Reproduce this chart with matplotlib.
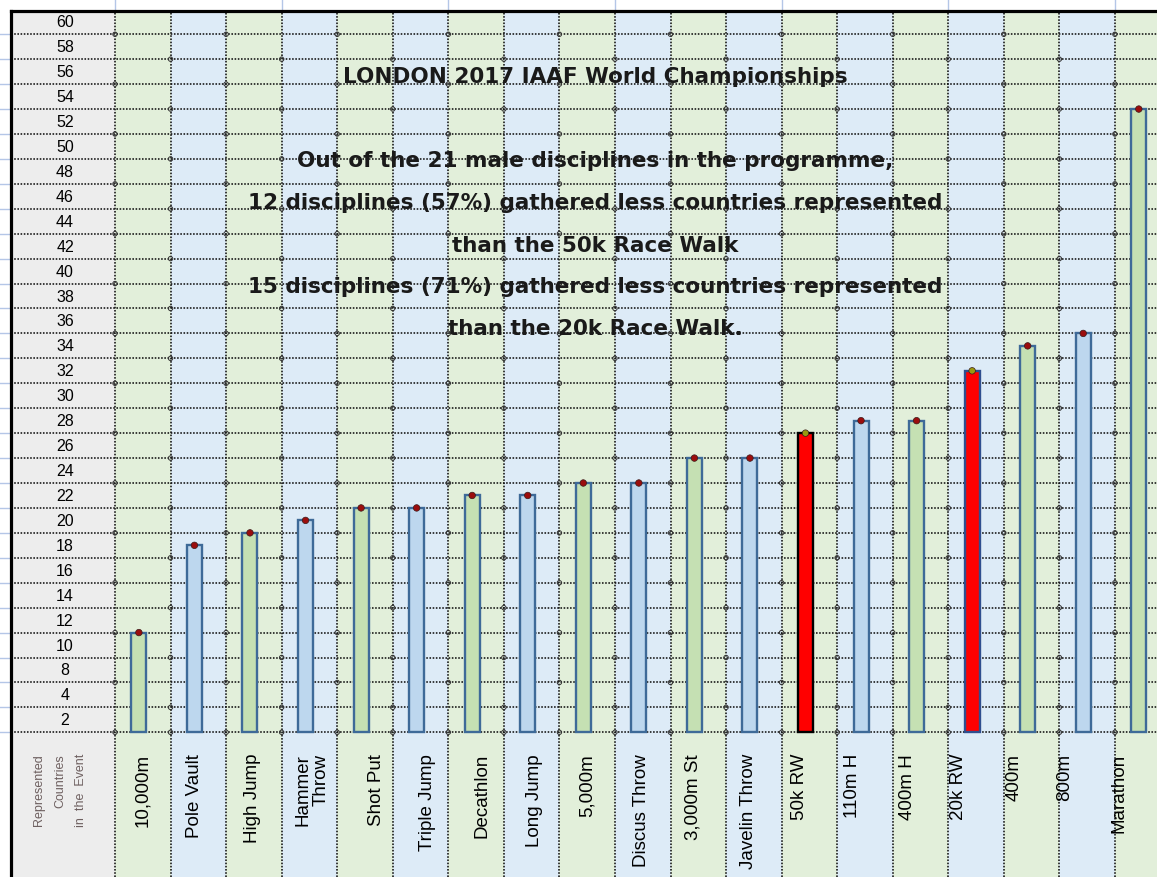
import numpy as np
import matplotlib
matplotlib.use('Agg')
import matplotlib.pyplot as plt
from matplotlib.patches import Rectangle

# data
events = ['10,000m', 'Pole Vault', 'High Jump', 'Hammer\nThrow', 'Shot Put',
          'Triple Jump', 'Decathlon', 'Long Jump', '5,000m', 'Discus Throw',
          '3,000m St', 'Javelin Throw', '50k RW', '110m H', '400m H',
          '20k RW', '400m', '800m', 'Marathon']
countries = [11, 18, 19, 20, 21, 21, 22, 22, 23, 23, 25, 25, 27, 28, 28,
             32, 34, 35, 53]
race_walks = ['50k RW', '20k RW']
row_labels = ['2', '4', '8'] + [str(v) for v in range(10, 61, 2)]

title = 'LONDON 2017 IAAF World Championships'
notes = ['Out of the 21 male disciplines in the programme,',
         '12 disciplines (57%) gathered less countries represented',
         'than the 50k Race Walk',
         '15 disciplines (71%) gathered less countries represented',
         'than the 20k Race Walk.']

# style
green_bg, blue_bg, grey_bg = '#e2efda', '#ddebf7', '#ededed'
green_bar, blue_bar, edge = '#c5e0b3', '#bdd7ee', '#3e6a98'
dot = (0, (1, 1))
label_shift = [0, -0.06, -0.03, 0.05, 0.21, 0.13, 0.11, 0.06, 0, -0.03,
               -0.1, -0.1, -0.18, -0.23, -0.23, -0.32, -0.32, -0.41, -0.43]

W, H = 1157, 878
fig = plt.figure(figsize=(W / 100, H / 100), dpi=100)
ax = fig.add_axes([0, 0, 1, 1])
ax.set_axis_off()

# one column = 55.55 px, one row (2 units) = 24.93 px
ax.set_xlim((0 - 115) / 55.55, (W - 115) / 55.55)
ax.set_ylim(3 - 2 * (H - 733.3) / 24.93, 3 + 2 * 733.3 / 24.93)
x_left = (11 - 115) / 55.55
y_top = 3 + 2 * (733.3 - 11.5) / 24.93
y_bot = ax.get_ylim()[0]
x_right = ax.get_xlim()[1]

n = len(events)
idx = np.arange(n)

# cell backgrounds
ax.add_patch(Rectangle((x_left, y_bot), -x_left, y_top - y_bot,
                       facecolor=grey_bg, edgecolor='none', zorder=0))
for i in idx:
    ax.add_patch(Rectangle((i, y_bot), 1, y_top - y_bot,
                           facecolor=green_bg if i % 2 == 0 else blue_bg,
                           edgecolor='none', zorder=0))

# dotted sheet grid
row_lines = np.arange(3, 60, 2)
for y in row_lines:
    ax.plot([x_left, x_right], [y, y], color='#111111', lw=1.15,
            linestyle=dot, zorder=1)
for x in range(0, n + 1):
    ax.plot([x, x], [y_bot, y_top], color='#111111', lw=1.15,
            linestyle=dot, zorder=1)
cx, cy = [], []
for j, y in enumerate(row_lines):
    for x in range(0, n + 1):
        if (x + j) % 2 == 0 or j == 0:
            cx.append(x)
            cy.append(y)
ax.scatter(cx, cy, s=10, facecolor='none', edgecolor='#333333', lw=0.7, zorder=2)

# faint gridlines in the sheet margins
for x in range(0, n + 1, 3):
    ax.plot([x, x], [y_top + 0.1, ax.get_ylim()[1]], color='#b4c6e7', lw=1, zorder=1)
for y in row_lines:
    ax.plot([ax.get_xlim()[0], x_left - 0.03], [y, y], color='#b4c6e7', lw=1, zorder=1)

# thick borders
ax.plot([x_left, x_left], [y_bot, y_top], color='black', lw=2.3,
        solid_capstyle='projecting', zorder=6)
ax.plot([x_left, x_right], [y_top, y_top], color='black', lw=2.3,
        solid_capstyle='projecting', zorder=6)

# bars
vals = np.array(countries)
fills, edges, dots = [], [], []
for i, e in enumerate(events):
    if e in race_walks:
        fills.append('#ff0000')
        edges.append('black' if e == '50k RW' else '#2f4f8f')
        dots.append('#9a9a10')
    else:
        fills.append(green_bar if i % 2 == 0 else blue_bar)
        edges.append(edge)
        dots.append('#9b0d0d')
ax.bar(idx + 0.43, vals - 3, bottom=3, width=0.27, color=fills,
       edgecolor=edges, linewidth=1.7, zorder=4)
ax.scatter(idx + 0.43, vals, s=22, c=dots, edgecolor='#3a1a1a', lw=0.5, zorder=5)

# row labels
for k, lab in enumerate(row_labels):
    ax.text(-0.9, 4 + 2 * k, lab, ha='center', va='center',
            fontsize=11.5, family='Liberation Sans', color='black', zorder=3)

# category labels
y_lab = 3 + 2 * (733.3 - 754) / 24.93
for i, e in enumerate(events):
    ax.text(i + 0.5 + label_shift[i], y_lab, e, rotation=90, ha='center',
            va='top', multialignment='right', linespacing=1.1,
            fontsize=13.5, family='Liberation Sans', color='black', zorder=3)

ax.text(-0.99, y_lab, 'Represented\nCountries\nin  the  Event', rotation=90,
        ha='center', va='top', multialignment='right', linespacing=2.0,
        fontsize=9, family='Liberation Sans', color='#6e6060', zorder=3)

# annotation text
fig.text(595 / W, 1 - 83 / H, title, ha='center', va='baseline',
         fontsize=15.5, fontweight='bold', family='DejaVu Sans', color='#1a1a1a')
for txt, py in zip(notes, [167, 209, 252, 293, 335]):
    fig.text(595 / W, 1 - py / H, txt, ha='center', va='baseline',
             fontsize=15.5, fontweight='bold', family='DejaVu Sans', color='#1a1a1a')

fig.savefig('out.png', dpi=100)
